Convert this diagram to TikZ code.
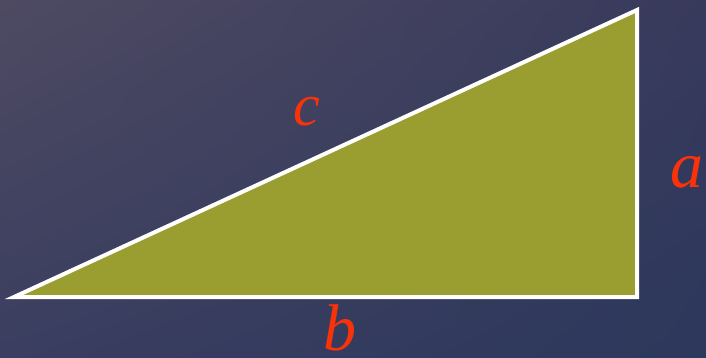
\documentclass[tikz,border=0pt]{standalone}
\usepackage{fontspec}
\setmainfont{Liberation Serif}
\usetikzlibrary{math,shadings}

\definecolor{bgul}{RGB}{78,74,98}
\definecolor{bgur}{RGB}{56,58,92}
\definecolor{bgll}{RGB}{58,62,96}
\definecolor{bglr}{RGB}{44,56,92}
\definecolor{olive}{RGB}{154,158,48}
\definecolor{labelred}{RGB}{250,50,10}

\tikzset{
  side label/.style={text=labelred, font=\itshape\fontsize{66}{66}\selectfont, inner sep=0pt, anchor=base},
}

\begin{document}
\begin{tikzpicture}[x=1pt,y=-1pt]
\tikzmath{
\W=706;
\H=357;
}
\useasboundingbox (0,0) rectangle (\W,\H);

% background
\shade[upper left=bgul, upper right=bgur, lower left=bgll, lower right=bglr]
  (0,0) rectangle (\W,\H);

% triangle
\coordinate (B) at (14,297);
\coordinate (C) at (637,297);
\coordinate (A) at (637,10);
\filldraw[fill=olive, draw=white, line width=4, line join=miter]
  (B) -- (C) -- (A) -- cycle;

\node[side label, font=\itshape\fontsize{60}{60}\selectfont] (lc) at (307,125) {c};
\node[side label] (la) at (687,187) {a};
\node[side label] (lb) at (340,350) {b};

\end{tikzpicture}
\end{document}
